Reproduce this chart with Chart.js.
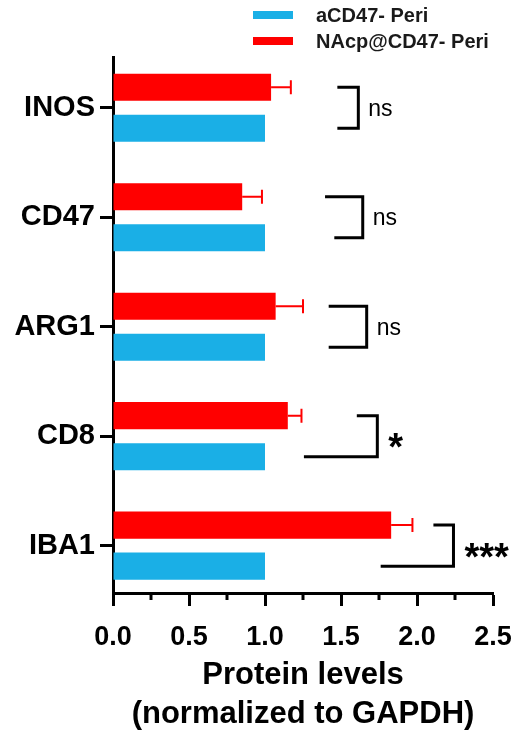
<!DOCTYPE html>
<html>
<head>
<meta charset="utf-8">
<script src="https://cdn.jsdelivr.net/npm/chart.js@4/dist/chart.umd.min.js"></script>
<style>
  html, body { margin: 0; padding: 0; background: #fff; }
  #wrap { width: 517px; height: 731px; position: relative; }
</style>
</head>
<body>
<div id="wrap"><canvas id="chart"></canvas></div>
<script>
// values
const categories = ['INOS', 'CD47', 'ARG1', 'CD8', 'IBA1'];
const periValues = [1.0, 1.0, 1.0, 1.0, 1.0];
const nacpValues = [1.04, 0.85, 1.07, 1.15, 1.83];
const nacpErrors = [0.13, 0.13, 0.18, 0.09, 0.14];
const sigLabels = ['ns', 'ns', 'ns', '*', '***'];

// bracket geometry, in x-axis units
const bracketTopStart = [1.476, 1.395, 1.419, 1.604, 2.108];
const bracketBottomStart = [1.476, 1.456, 1.419, 1.256, 1.761];
const bracketEnd = [1.614, 1.643, 1.669, 1.739, 2.240];

const RED = '#ff0000';
const BLUE = '#1aafe6';
const FONT = "'Liberation Sans', Arial, sans-serif";

// red error bars (right side only)
const errorBars = {
    id: 'errorBars',
    afterDatasetsDraw(chart) {
        const ctx = chart.ctx;
        const xs = chart.scales.x;
        const meta = chart.getDatasetMeta(0);
        ctx.save();
        ctx.strokeStyle = RED;
        ctx.lineWidth = 2;
        meta.data.forEach((bar, i) => {
            const x1 = xs.getPixelForValue(nacpValues[i] + nacpErrors[i]);
            ctx.beginPath();
            ctx.moveTo(bar.x, bar.y);
            ctx.lineTo(x1, bar.y);
            ctx.moveTo(x1, bar.y - 7);
            ctx.lineTo(x1, bar.y + 7);
            ctx.stroke();
        });
        ctx.restore();
    }
};

// significance brackets
const brackets = {
    id: 'brackets',
    afterDatasetsDraw(chart) {
        const ctx = chart.ctx;
        const xs = chart.scales.x;
        const top = chart.getDatasetMeta(0).data;
        const bot = chart.getDatasetMeta(1).data;
        ctx.save();
        ctx.strokeStyle = '#000';
        ctx.fillStyle = '#000';
        ctx.lineWidth = 3;
        ctx.lineCap = 'butt';
        categories.forEach((c, i) => {
            const yT = top[i].y, yB = bot[i].y;
            const xe = xs.getPixelForValue(bracketEnd[i]);
            ctx.beginPath();
            ctx.moveTo(xs.getPixelForValue(bracketTopStart[i]), yT);
            ctx.lineTo(xe, yT);
            ctx.lineTo(xe, yB);
            ctx.lineTo(xs.getPixelForValue(bracketBottomStart[i]), yB);
            ctx.stroke();
            const mid = (yT + yB) / 2;
            ctx.textAlign = 'left';
            ctx.textBaseline = 'alphabetic';
            if (sigLabels[i] === 'ns') {
                ctx.font = '23px ' + FONT;
                ctx.fillText(sigLabels[i], xe + 10, mid + 8);
            } else {
                ctx.font = 'bold 38px ' + FONT;
                ctx.fillText(sigLabels[i], xe + 11, mid + 24);
            }
        });
        ctx.restore();
    }
};

// minor ticks on the x axis
const minorTicks = {
    id: 'minorTicks',
    afterDraw(chart) {
        const ctx = chart.ctx;
        const xs = chart.scales.x;
        const b = chart.chartArea.bottom;
        ctx.save();
        ctx.strokeStyle = '#000';
        ctx.lineWidth = 3;
        for (let v = 0.25; v < 2.5; v += 0.5) {
            const px = Math.round(xs.getPixelForValue(v));
            ctx.beginPath();
            ctx.moveTo(px, b);
            ctx.lineTo(px, b + 7);
            ctx.stroke();
        }
        ctx.restore();
    }
};

// legend stacked top right, blue first
const stackedLegend = {
    id: 'stackedLegend',
    afterDraw(chart) {
        const ctx = chart.ctx;
        const order = [1, 0];
        ctx.save();
        ctx.font = 'bold 20px ' + FONT;
        ctx.textBaseline = 'middle';
        ctx.textAlign = 'left';
        order.forEach((d, row) => {
            const ds = chart.data.datasets[d];
            const y = 15 + row * 26;
            ctx.fillStyle = ds.backgroundColor;
            ctx.fillRect(253, y - 4, 40, 8);
            ctx.fillStyle = '#1a1a1a';
            ctx.fillText(ds.label, 316, y + 1);
        });
        ctx.restore();
    }
};

new Chart(document.getElementById('chart'), {
    type: 'bar',
    data: {
        datasets: [
            {
                label: 'NAcp@CD47- Peri',
                data: nacpValues.map((v, i) => ({ x: v, y: i })),
                backgroundColor: RED,
                categoryPercentage: 0.75,
                barPercentage: 0.66
            },
            {
                label: 'aCD47- Peri',
                data: periValues.map((v, i) => ({ x: v, y: i })),
                backgroundColor: BLUE,
                categoryPercentage: 0.75,
                barPercentage: 0.66
            }
        ]
    },
    options: {
        indexAxis: 'y',
        responsive: true,
        maintainAspectRatio: false,
        animation: false,
        layout: { padding: { top: 57, right: 24, left: 0, bottom: 0 } },
        plugins: {
            legend: { display: false },
            tooltip: { enabled: false }
        },
        scales: {
            x: {
                type: 'linear',
                min: 0,
                max: 2.5,
                afterFit: s => { s.height = 138; s.paddingLeft = 0; s.paddingRight = 0; },
                ticks: {
                    stepSize: 0.5,
                    callback: v => Number(v).toFixed(1),
                    color: '#000',
                    padding: 15,
                    font: { family: FONT, size: 27, weight: 'bold' }
                },
                grid: { drawOnChartArea: false, tickLength: 13, tickWidth: 3, tickColor: '#000' },
                border: { color: '#000', width: 3 },
                title: {
                    display: true,
                    text: ['Protein levels', '(normalized to GAPDH)'],
                    color: '#000',
                    padding: { top: 0, bottom: -3 },
                    font: { family: FONT, size: 31, weight: 'bold', lineHeight: 1.25 }
                }
            },
            y: {
                type: 'linear',
                reverse: true,
                offset: false,
                min: -0.464,
                max: 4.433,
                afterFit: s => { s.width = 113; },
                afterBuildTicks: s => { s.ticks = categories.map((c, i) => ({ value: i })); },
                ticks: {
                    autoSkip: false,
                    callback: v => categories[v],
                    color: '#000',
                    padding: 5,
                    font: { family: FONT, size: 29, weight: 'bold' }
                },
                grid: { offset: false, drawOnChartArea: false, tickLength: 13, tickWidth: 3, tickColor: '#000' },
                border: { color: '#000', width: 3 }
            }
        }
    },
    plugins: [errorBars, brackets, minorTicks, stackedLegend]
});
</script>
</body>
</html>
